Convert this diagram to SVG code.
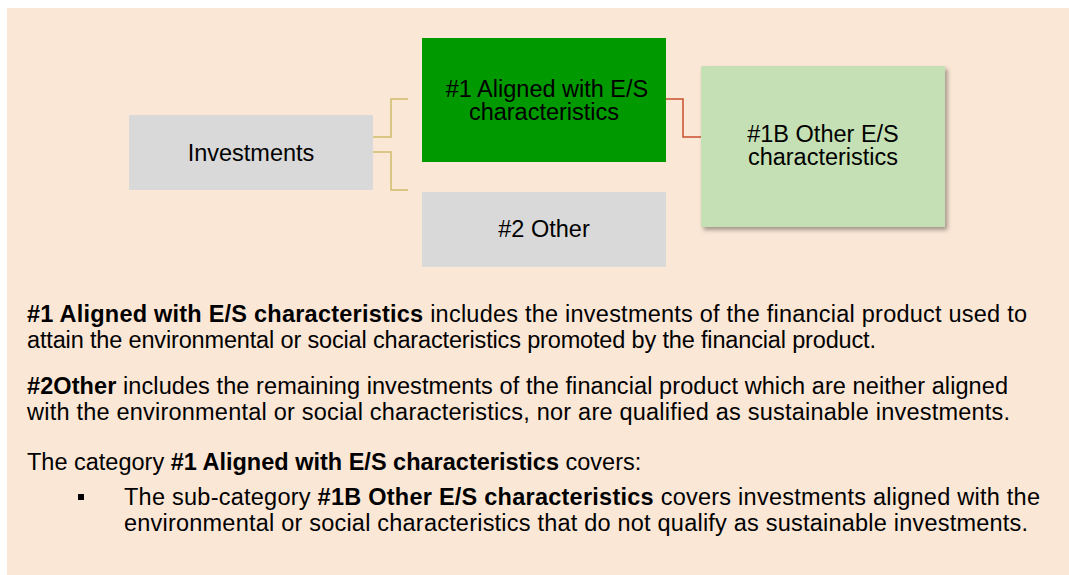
<svg xmlns="http://www.w3.org/2000/svg" width="1069" height="575" viewBox="0 0 1069 575">
<style>
text { font-family: "Liberation Sans", Arial, sans-serif; fill: #000; }
.node { font-size: 23.5px; text-anchor: middle; }
.body { font-size: 23.5px; }
.b { font-weight: bold; }
.tan { fill: none; stroke: #cfbd6c; stroke-width: 1.5; }
.red { fill: none; stroke: #c8502e; stroke-width: 1.5; }
</style>
<defs>
<filter id="sh" x="-10%" y="-10%" width="130%" height="130%">
<feDropShadow dx="2.5" dy="3" stdDeviation="2" flood-color="#000" flood-opacity="0.35"/>
</filter>
</defs>
<rect x="7" y="8" width="1062" height="567" fill="#fbe7d6"/>
<g id="connectors">
<path class="tan" d="M373 137 H391 V99 H408"/>
<path class="tan" d="M373 152 H391 V190 H408"/>
<path class="red" d="M666 99 H683 V137 H701"/>
</g>
<g id="investments">
<rect x="129" y="115" width="244" height="75" fill="#d9d9d9"/>
<text class="node" x="251" y="161">Investments</text>
</g>
<g id="aligned">
<rect x="422" y="38" width="244" height="124" fill="#009900"/>
<text class="node" x="547" y="97">#1 Aligned with E/S</text>
<text class="node" x="544" y="120">characteristics</text>
</g>
<g id="other">
<rect x="422" y="192" width="244" height="75" fill="#d9d9d9"/>
<text class="node" x="544" y="237">#2 Other</text>
</g>
<g id="other-es">
<rect x="701" y="66" width="244" height="161" fill="#c5e0b4" filter="url(#sh)"/>
<text class="node" x="823" y="142">#1B Other E/S</text>
<text class="node" x="823" y="165">characteristics</text>
</g>
<g id="description">
<text class="body" x="27" y="322" textLength="1000" lengthAdjust="spacing"><tspan class="b">#1 Aligned with E/S characteristics</tspan> includes the investments of the financial product used to</text>
<text class="body" x="27" y="348" textLength="849" lengthAdjust="spacing">attain the environmental or social characteristics promoted by the financial product.</text>
<text class="body" x="27" y="394" textLength="981" lengthAdjust="spacing"><tspan class="b">#2Other</tspan> includes the remaining investments of the financial product which are neither aligned</text>
<text class="body" x="27" y="420" textLength="983" lengthAdjust="spacing">with the environmental or social characteristics, nor are qualified as sustainable investments.</text>
<text class="body" x="27" y="470">The category <tspan class="b">#1 Aligned with E/S characteristics</tspan> covers:</text>
<rect x="78" y="494" width="6" height="6" fill="#000"/>
<text class="body" x="124" y="505" textLength="916" lengthAdjust="spacing">The sub-category <tspan class="b">#1B Other E/S characteristics</tspan> covers investments aligned with the</text>
<text class="body" x="124" y="531" textLength="904" lengthAdjust="spacing">environmental or social characteristics that do not qualify as sustainable investments.</text>
</g>
</svg>
